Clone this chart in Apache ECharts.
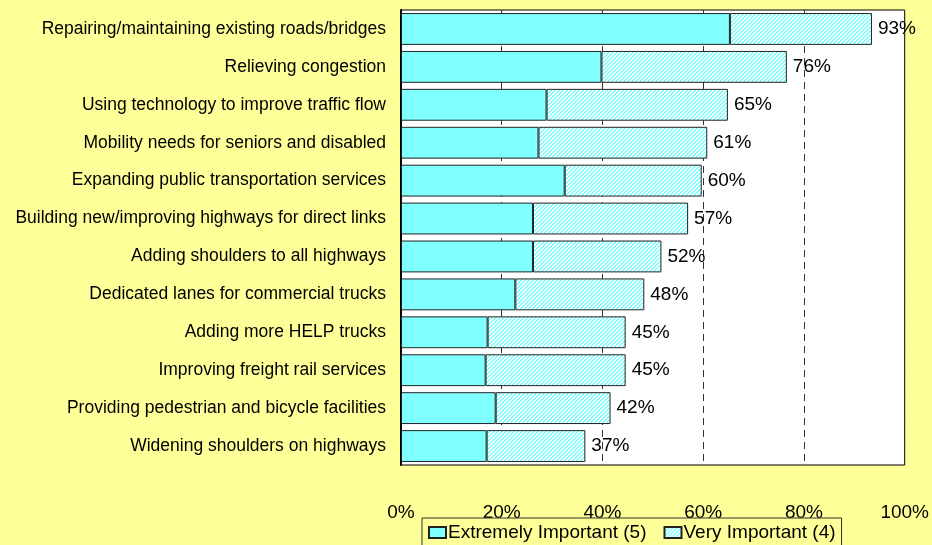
<!DOCTYPE html>
<html><head><meta charset="utf-8">
<script src="https://cdn.jsdelivr.net/npm/echarts@6/dist/echarts.min.js"></script>
<style>html,body{margin:0;padding:0;background:#FFFF99;}#c{width:932px;height:545px;}</style>
</head><body><div id="c"></div>
<script>
const categories = [
  "Repairing/maintaining existing roads/bridges",
  "Relieving congestion",
  "Using technology to improve traffic flow",
  "Mobility needs for seniors and disabled",
  "Expanding public transportation services",
  "Building new/improving highways for direct links",
  "Adding shoulders to all highways",
  "Dedicated lanes for commercial trucks",
  "Adding more HELP trucks",
  "Improving freight rail services",
  "Providing pedestrian and bicycle facilities",
  "Widening shoulders on highways"
];
const extremelyImportant = [65.3, 39.8, 28.9, 27.3, 32.5, 26.2, 26.2, 22.7, 17.2, 16.8, 18.8, 17.0];
const veryImportant = [28.2, 36.8, 36.0, 33.5, 27.2, 30.8, 25.5, 25.6, 27.4, 27.8, 22.8, 19.6];
const totalLabels = ["93%", "76%", "65%", "61%", "60%", "57%", "52%", "48%", "45%", "45%", "42%", "37%"];
const xTicks = [0, 20, 40, 60, 80, 100];

function hatch() {
  const c = document.createElement('canvas');
  c.width = 4; c.height = 4;
  const g = c.getContext('2d');
  for (let x = 0; x < 4; x++) {
    for (let y = 0; y < 4; y++) {
      g.fillStyle = ((x + y) % 4 < 2) ? '#80FFFF' : '#FFFFFF';
      g.fillRect(x, y, 1, 1);
    }
  }
  return c;
}

const chart = echarts.init(document.getElementById('c'));
chart.setOption({
  backgroundColor: '#FFFF99',
  animation: false,
  textStyle: { fontFamily: 'Liberation Sans, Arial, sans-serif', color: '#000' },
  grid: { left: 401, right: 25, top: 10, bottom: 80, show: true, backgroundColor: '#fff', borderColor: '#000', borderWidth: 1 },
  legend: {
    left: 422, top: 518, height: 40,
    padding: [5, 6, 14, 6],
    borderColor: '#333', borderWidth: 1,
    backgroundColor: '#FFFF99',
    itemWidth: 17, itemHeight: 11, itemGap: 17,
    icon: 'rect',
    textStyle: { fontSize: 19, color: '#000', padding: [0, 0, 0, -3] },
    data: ['Extremely Important (5)', 'Very Important (4)']
  },
  xAxis: {
    type: 'value', min: 0, max: 100, interval: 20,
    axisLine: { show: false }, axisTick: { show: false },
    axisLabel: { formatter: v => xTicks.includes(v) ? v + '%' : '', fontSize: 19, color: '#000', margin: 38 },
    splitLine: { show: true, lineStyle: { color: '#333', type: [7, 5], width: 1 } }
  },
  yAxis: {
    type: 'category', data: categories, inverse: true,
    axisLine: { show: true, lineStyle: { color: '#000', width: 2 } },
    axisTick: { show: false },
    axisLabel: { fontSize: 17.5, color: '#000', margin: 15 }
  },
  series: [
    {
      name: 'Extremely Important (5)', type: 'bar', stack: 'a',
      data: extremelyImportant, barCategoryGap: '16%',
      itemStyle: { color: '#80FFFF', borderColor: '#222', borderWidth: 1 }
    },
    {
      name: 'Very Important (4)', type: 'bar', stack: 'a',
      data: veryImportant, barCategoryGap: '16%',
      itemStyle: { color: { image: hatch(), repeat: 'repeat' }, borderColor: '#222', borderWidth: 1 },
      label: { show: true, position: 'right', distance: 6, fontSize: 19, color: '#000',
        formatter: p => totalLabels[p.dataIndex] }
    }
  ]
});
</script></body></html>
